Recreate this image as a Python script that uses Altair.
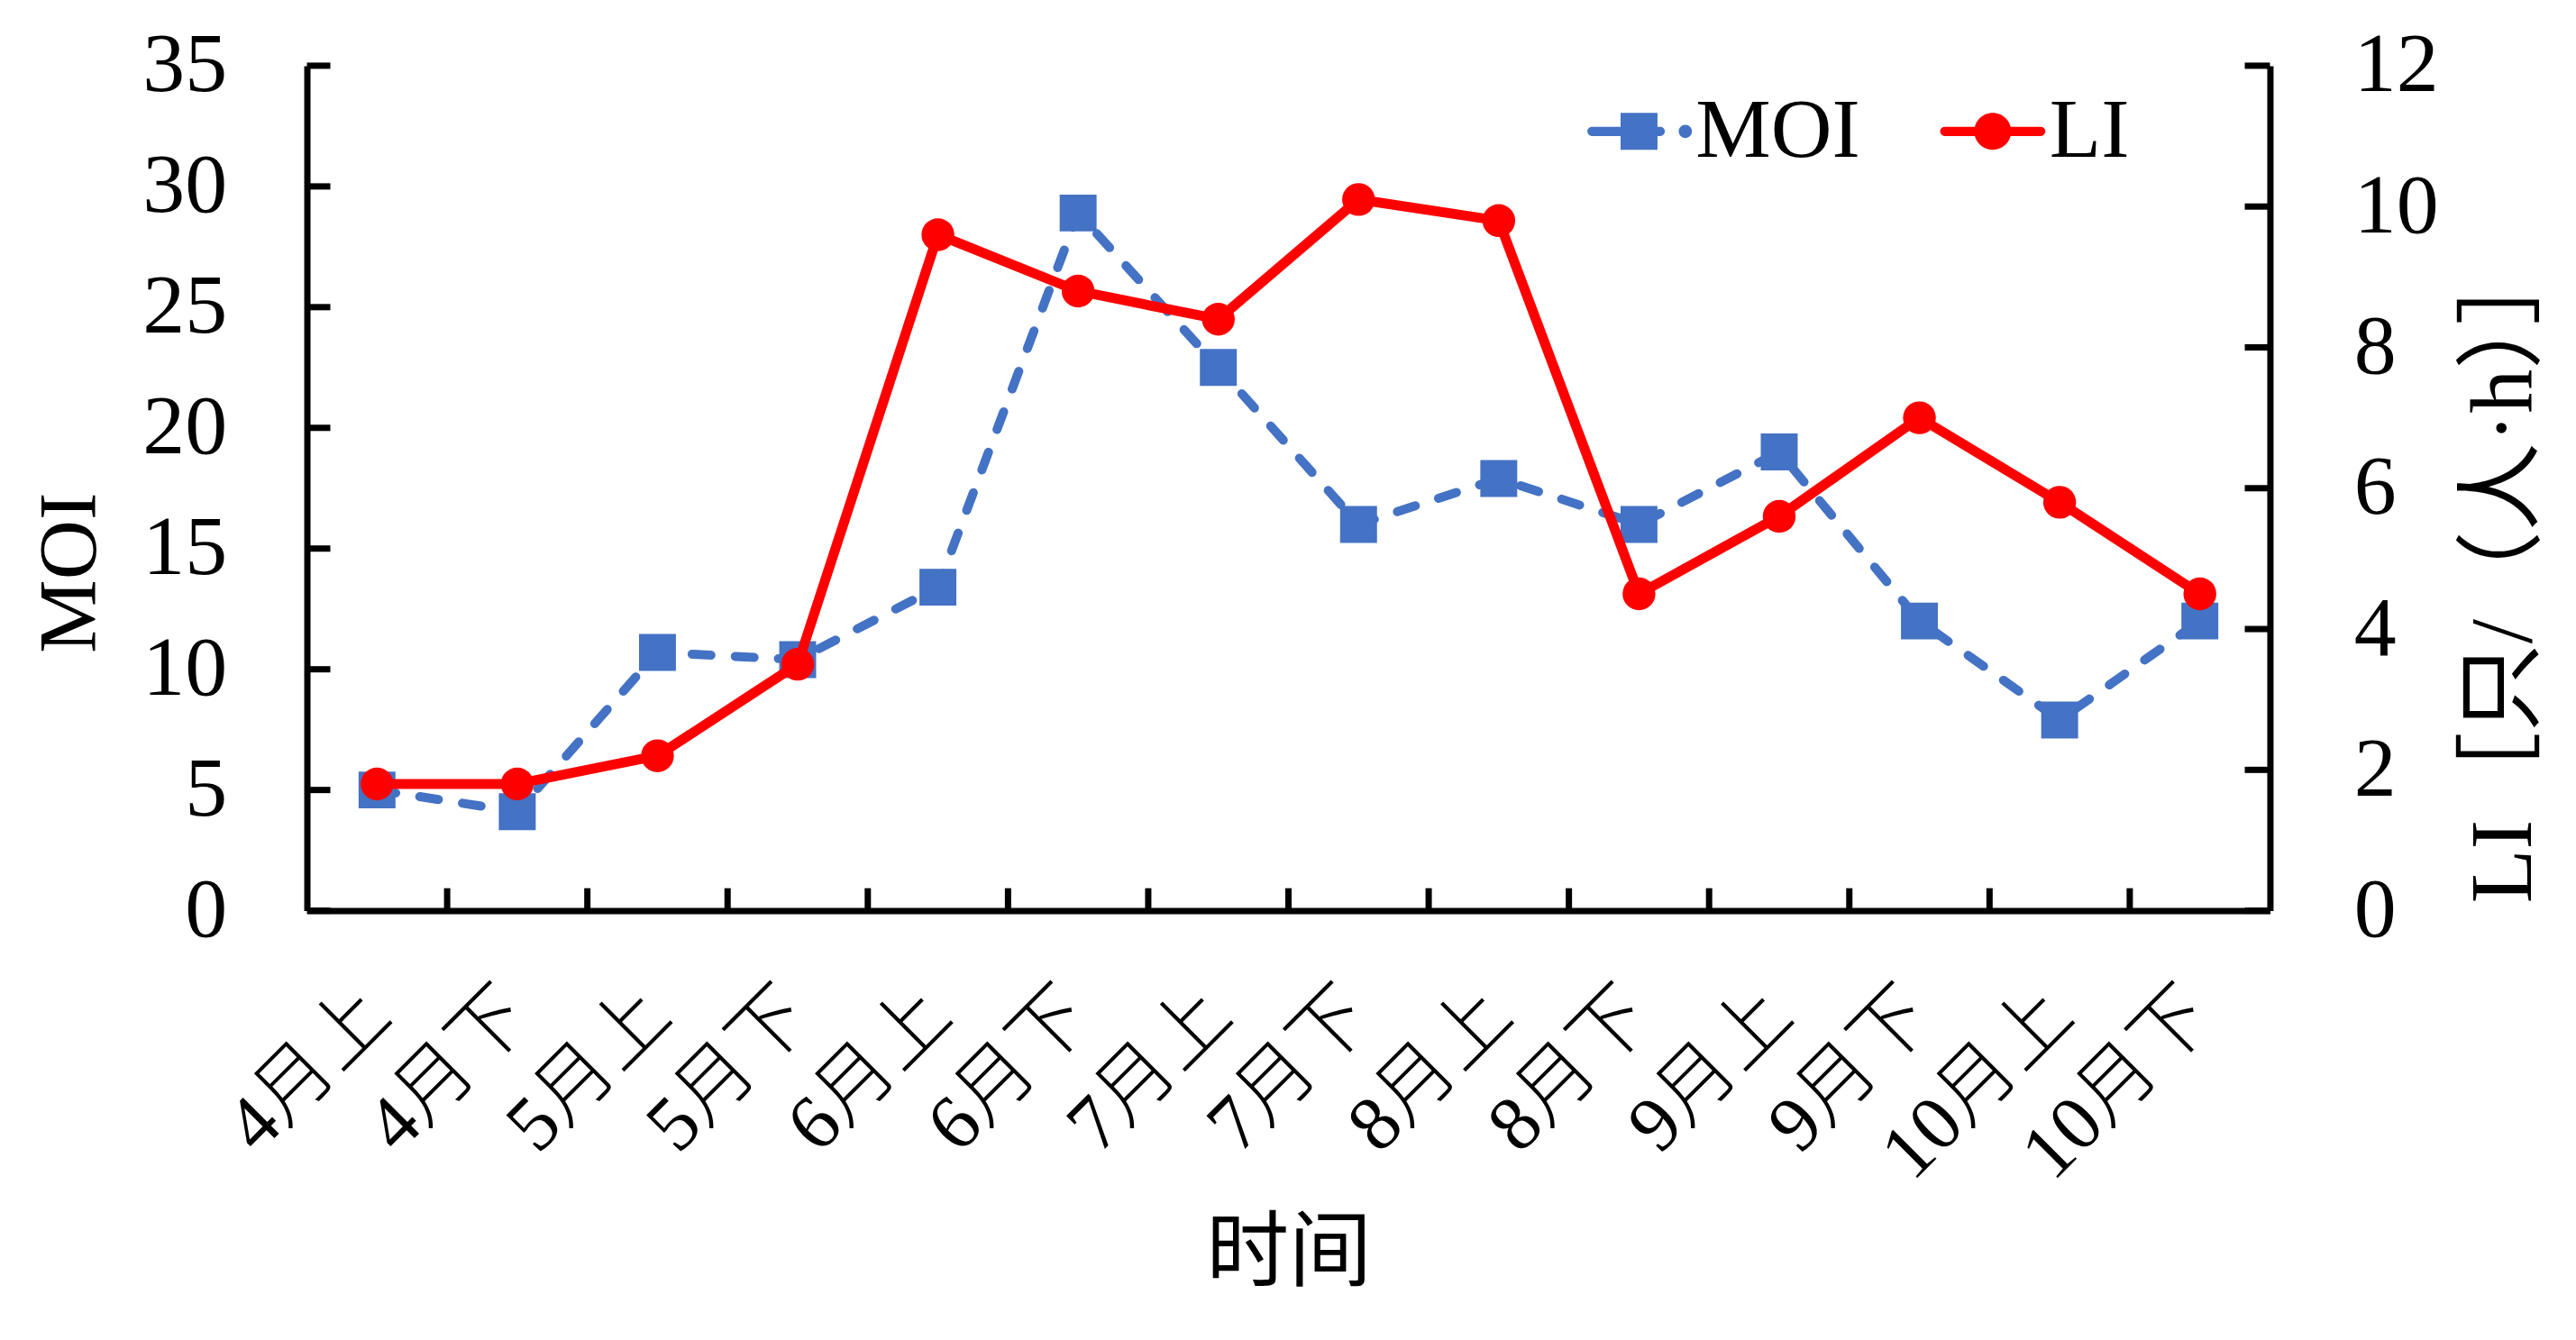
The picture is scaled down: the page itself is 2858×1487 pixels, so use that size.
import json
import altair as alt
import pandas as pd

# ---------------- data ----------------
periods = ["4月上", "4月下", "5月上", "5月下", "6月上", "6月下", "7月上",
           "7月下", "8月上", "8月下", "9月上", "9月下", "10月上", "10月下"]
moi = [5.0, 4.1, 10.7, 10.4, 13.4, 28.9, 22.5, 16.0, 17.9, 16.0, 19.0, 12.0, 7.9, 12.0]
li = [1.8, 1.8, 2.2, 3.5, 9.6, 8.8, 8.4, 10.1, 9.8, 4.5, 5.6, 7.0, 5.8, 4.5]
moi_ticks = [0, 5, 10, 15, 20, 25, 30, 35]
li_ticks = [0, 2, 4, 6, 8, 10, 12]
series_names = ["MOI", "LI"]

BLUE = "#4472C4"
RED = "#FF0000"
FONT = "Liberation Serif, Noto Sans CJK SC"

W, H = 2181, 939

df = pd.DataFrame({"idx": list(range(len(periods))), "period": periods, "MOI": moi, "LI": li})
bounds = pd.DataFrame({"b": [i + 0.5 for i in range(len(periods) - 1)]})
moi_tick_df = pd.DataFrame({"t": moi_ticks})
li_tick_df = pd.DataFrame({"t": li_ticks})
legend_df = pd.DataFrame({"series": series_names})

label_expr = json.dumps(periods, ensure_ascii=False) + "[datum.value]"

x_scale = alt.Scale(domain=[-0.5, len(periods) - 0.5], nice=False, zero=False)
moi_scale = alt.Scale(domain=[0, 35], nice=False, zero=True)
li_scale = alt.Scale(domain=[0, 12], nice=False, zero=True)

x_axis = alt.Axis(
    values=list(range(len(periods))), labelExpr=label_expr,
    title="时间", titleFont=FONT, titleFontSize=92, titleFontWeight="normal",
    titleColor="black", titleX=W / 2, titleY=381, titleAlign="center",
    titleBaseline="middle", titleAngle=0,
    labelFont=FONT, labelFontSize=86, labelFontWeight=300, labelColor="black",
    labelAngle=315, labelAlign="right", labelBaseline="middle", labelPadding=101,
    labelOverlap=False, labelFlush=False, labelBound=False, labelLimit=0,
    ticks=False, tickSize=0, grid=False,
    domain=True, domainColor="black", domainWidth=7,
)

moi_axis = alt.Axis(
    values=moi_ticks, title="MOI", titleFont=FONT, titleFontSize=92,
    titleFontWeight="normal", titleColor="black", titleX=-263, titleY=563,
    titleAngle=270, titleAlign="center", titleBaseline="middle",
    labelFont=FONT, labelFontSize=94, labelColor="black", labelPadding=89,
    labelOverlap=False, labelFlush=False, labelBound=False,
    ticks=False, tickSize=0, grid=False,
    domain=True, domainColor="black", domainWidth=7,
)

li_axis = alt.Axis(
    orient="right", values=li_ticks, title="LI［只/（人·h）］",
    titleFont=FONT, titleFontSize=98, titleFontWeight="normal", titleColor="black",
    titleX=260, titleY=560, titleAngle=270, titleAlign="center",
    titleBaseline="middle",
    labelFont=FONT, labelFontSize=94, labelColor="black", labelPadding=93,
    labelAlign="left",
    labelOverlap=False, labelFlush=False, labelBound=False,
    ticks=False, tickSize=0, grid=False,
    domain=True, domainColor="black", domainWidth=7,
)

x_enc = alt.X("idx:Q", scale=x_scale, axis=x_axis)
moi_y = alt.Y("MOI:Q", scale=moi_scale, axis=moi_axis)
li_y = alt.Y("LI:Q", scale=li_scale, axis=li_axis)

base = alt.Chart(df)

# ---------------- MOI (left axis) ----------------
moi_line = base.mark_line(
    color=BLUE, strokeWidth=10, strokeDash=[21, 27], strokeCap="round", strokeJoin="round"
).encode(x=x_enc, y=moi_y)

moi_pts = base.mark_point(
    shape="square", filled=True, size=1681, color=BLUE, opacity=1
).encode(x=x_enc, y=moi_y)

left_ticks = alt.Chart(moi_tick_df).mark_rule(color="black", strokeWidth=7).encode(
    y=alt.Y("t:Q", scale=moi_scale, axis=moi_axis),
    x=alt.value(0), x2=alt.value(26),
)

x_ticks = alt.Chart(bounds).mark_rule(color="black", strokeWidth=7).encode(
    x=alt.X("b:Q", scale=x_scale, axis=x_axis),
    y=alt.value(H), y2=alt.value(H - 25),
)

left = alt.layer(moi_line, moi_pts, left_ticks, x_ticks)

# ---------------- LI (right axis) ----------------
li_line = base.mark_line(
    color=RED, strokeWidth=11, strokeJoin="round", strokeCap="round"
).encode(x=x_enc, y=li_y)

li_pts = base.mark_point(
    shape="circle", filled=True, size=1330, color=RED, opacity=1
).encode(x=x_enc, y=li_y)

right_ticks = alt.Chart(li_tick_df).mark_rule(color="black", strokeWidth=7).encode(
    y=alt.Y("t:Q", scale=li_scale, axis=li_axis),
    x=alt.value(W), x2=alt.value(W - 28),
)

# legend symbols: line + marker drawn as custom paths (unit = half marker side)
moi_symbol = (
    "M-2.55,-0.25H-1V0.25H-2.55A0.25,0.25 0 0,1 -2.55,-0.25Z "
    "M-1,-1H1V1H-1Z "
    "M1,-0.25H1.15A0.25,0.25 0 0,1 1.15,0.25H1Z "
    "M2.15,0A0.36,0.36 0 1,1 2.87,0A0.36,0.36 0 1,1 2.15,0Z"
)
li_symbol = (
    "M-2.6,-0.25H2.6A0.25,0.25 0 0,1 2.6,0.25H-2.6A0.25,0.25 0 0,1 -2.6,-0.25Z "
    "M-1,0A1,1 0 1,1 1,0A1,1 0 1,1 -1,0Z"
)

legend_def = alt.Legend(
    title=None, orient="none", legendX=1433, legendY=26, direction="horizontal",
    labelFont=FONT, labelFontSize=94, labelColor="black", labelOffset=16,
    labelLimit=0, columnPadding=88, padding=0, symbolSize=1681,
    symbolStrokeWidth=0, symbolOpacity=1, gridAlign="each",
)

legend_layer = alt.Chart(legend_df).transform_filter("false").mark_point(
    filled=True, opacity=1
).encode(
    color=alt.Color("series:N", scale=alt.Scale(domain=series_names, range=[BLUE, RED]),
                    legend=legend_def),
    shape=alt.Shape("series:N", scale=alt.Scale(domain=series_names, range=[moi_symbol, li_symbol]),
                    legend=legend_def),
)

right = alt.layer(li_line, li_pts, right_ticks, legend_layer)

chart = (
    alt.layer(left, right)
    .resolve_scale(y="independent")
    .properties(
        width=W, height=H,
        padding={"left": 333, "top": 64, "right": 332, "bottom": 440},
        autosize=alt.AutoSizeParams(type="none"),
        background="white",
    )
    .configure_view(stroke=None)
)

chart.save("out.html", embed_options={"renderer": "svg", "actions": False})
